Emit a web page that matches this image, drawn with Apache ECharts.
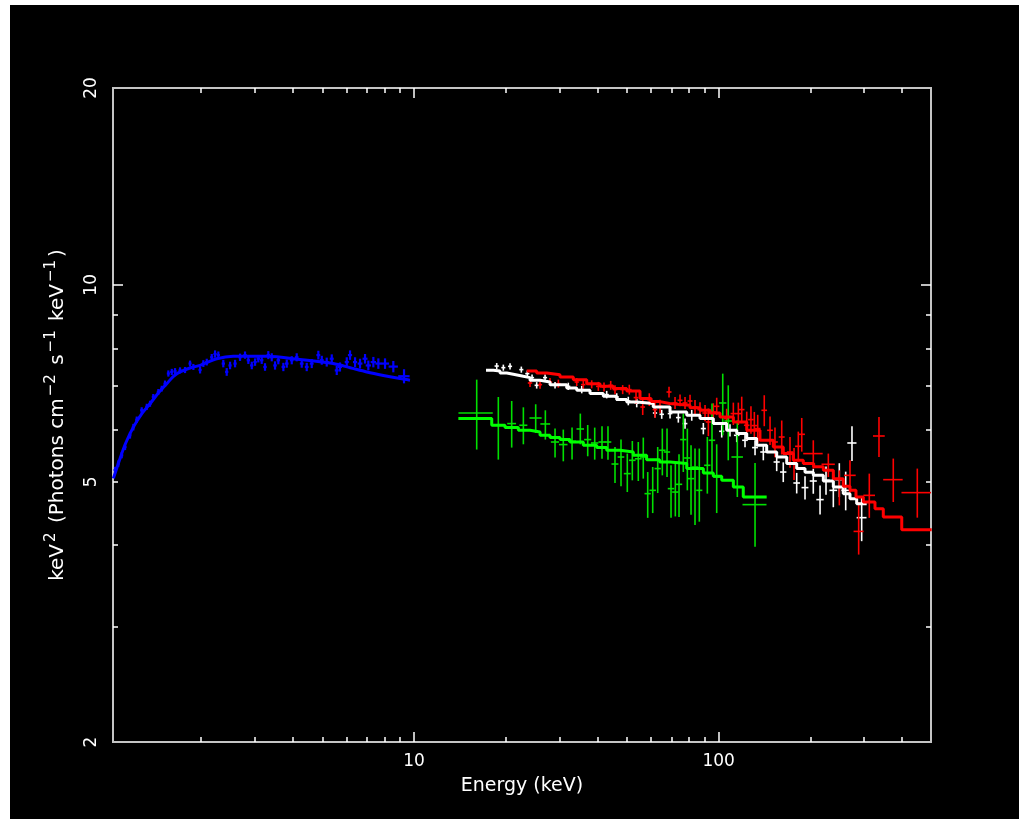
<!DOCTYPE html>
<html>
<head>
<meta charset="utf-8">
<script src="https://cdn.jsdelivr.net/npm/echarts@6/dist/echarts.min.js"></script>
<style>
html,body{margin:0;padding:0;background:#ffffff;overflow:hidden;}
#chart{position:absolute;left:10px;top:5px;width:1009px;height:814px;background:#000000;}
</style>
</head>
<body>
<div id="chart"></div>
<script>
// ---------------- axis ticks / labels ----------------
const xRange = [1.028, 497.5];
const yRange = [2, 20];
const xMajorTicks = [10, 100];
const xMinorTicks = [2, 3, 4, 5, 6, 7, 8, 9, 20, 30, 40, 50, 60, 70, 80, 90, 200, 300, 400];
const xTickLabels = [10, 100];
const yMajorTicks = [10];
const yMinorTicks = [3, 4, 5, 6, 7, 8, 9];
const yTickLabels = [2, 5, 10, 20];

// ---------------- blue data (E keV, value, +/- value err, +/- energy half-width) ----------------
const blueE = [1.044,1.070,1.098,1.126,1.169,1.199,1.230,1.277,1.327,1.360,1.394,1.448,1.486,1.523,1.562,1.603,1.643,1.706,1.772,1.840,1.887,1.985,2.035,2.088,2.168,2.223,2.279,2.366,2.428,2.490,2.586,2.685,2.788,2.859,2.934,3.008,3.083,3.163,3.243,3.325,3.412,3.498,3.586,3.725,3.822,3.969,4.121,4.280,4.445,4.616,4.853,4.980,5.170,5.370,5.577,5.714,6.015,6.166,6.404,6.650,6.906,7.080,7.354,7.637,8.032,8.552,9.273];
const blueV = [5.21,5.33,5.49,5.65,5.89,6.06,6.22,6.43,6.51,6.58,6.74,6.86,6.94,7.06,7.32,7.36,7.38,7.40,7.41,7.58,7.49,7.41,7.58,7.62,7.75,7.84,7.81,7.58,7.36,7.53,7.58,7.75,7.81,7.67,7.53,7.62,7.71,7.67,7.49,7.81,7.75,7.53,7.67,7.49,7.58,7.67,7.75,7.58,7.49,7.58,7.81,7.67,7.62,7.71,7.40,7.49,7.62,7.81,7.62,7.58,7.71,7.53,7.62,7.58,7.58,7.50,7.25];
const blueErrV = [0.06,0.06,0.06,0.06,0.07,0.07,0.07,0.07,0.07,0.07,0.07,0.07,0.07,0.08,0.08,0.08,0.08,0.08,0.08,0.08,0.08,0.09,0.09,0.09,0.09,0.10,0.10,0.10,0.10,0.10,0.10,0.10,0.10,0.10,0.10,0.10,0.10,0.10,0.10,0.11,0.11,0.11,0.11,0.11,0.11,0.11,0.11,0.11,0.11,0.12,0.12,0.12,0.12,0.12,0.12,0.12,0.13,0.13,0.13,0.13,0.13,0.13,0.14,0.14,0.14,0.15,0.18];
const blueErrE = [0.012,0.012,0.013,0.013,0.013,0.014,0.014,0.015,0.015,0.016,0.016,0.017,0.017,0.018,0.018,0.019,0.019,0.020,0.020,0.021,0.022,0.023,0.024,0.025,0.026,0.027,0.028,0.029,0.030,0.030,0.032,0.034,0.035,0.036,0.037,0.038,0.040,0.040,0.042,0.043,0.045,0.046,0.048,0.050,0.052,0.054,0.057,0.060,0.063,0.066,0.070,0.072,0.076,0.080,0.084,0.087,0.093,0.097,0.10,0.12,0.13,0.14,0.15,0.17,0.25,0.30,0.40];

// blue model curve
const blueModelE = [1.031,1.08,1.13,1.199,1.28,1.36,1.45,1.543,1.62,1.706,1.85,1.985,2.25,2.55,3.29,4.23,5.43,6.17,7.0,7.93,9.0,9.7];
const blueModelV = [5.06,5.40,5.72,6.06,6.36,6.58,6.84,7.06,7.24,7.36,7.47,7.53,7.71,7.78,7.78,7.69,7.58,7.47,7.36,7.27,7.19,7.15];

// ---------------- white data ----------------
const whiteE = [18.68,19.64,20.66,22.50,23.54,24.40,25.27,26.92,29.03,32.09,35.52,42.89,46.26,50.50,53.82,61.79,65.01,69.23,73.70,77.53,81.56,89.04,102.3,108.9,114.6,122.0,131.6,140.1,155.0,162.9,180.3,192.0,204.4,215.1,225.0,237.8,248.8,261.1,273.8,294.6];
const whiteV = [7.514,7.472,7.506,7.420,7.316,7.214,7.021,7.214,7.021,6.996,6.916,6.795,6.738,6.644,6.598,6.369,6.340,6.356,6.267,6.136,6.318,6.029,5.972,5.993,5.888,5.786,5.639,5.552,5.360,5.174,4.978,4.898,5.013,4.695,5.025,4.851,5.037,4.851,5.731,4.406];
const whiteErrV = [0.08,0.08,0.08,0.08,0.08,0.08,0.08,0.08,0.08,0.09,0.09,0.09,0.09,0.10,0.10,0.10,0.10,0.11,0.11,0.11,0.12,0.12,0.13,0.13,0.14,0.14,0.15,0.16,0.17,0.18,0.18,0.20,0.22,0.24,0.25,0.28,0.30,0.33,0.35,0.35];
const whiteErrE = [0.3,0.3,0.32,0.35,0.37,0.38,0.4,0.42,0.46,0.5,0.56,0.7,0.75,0.8,0.9,1.0,1.1,1.2,1.3,1.4,1.5,1.7,2.0,2.2,2.4,2.6,2.9,3.2,3.6,3.9,4.5,5.0,5.5,6.0,6.5,7.0,7.5,8.5,9.5,11];
// white model (bin start energy, value; last entry closes the last bin)
const whiteModelE = [17.23,18.21,19.15,20.15,21.18,22.85,24.03,25.92,27.95,31.71,34.20,37.81,41.81,46.26,49.90,53.82,61.00,69.23,78.54,86.83,96.01,106.2,114.6,123.6,133.3,143.7,155.0,167.2,180.3,192.0,204.4,220.5,237.8,256.4,269.7,283.7,306.0];
const whiteModelV = [7.402,7.384,7.332,7.298,7.247,7.214,7.146,7.103,7.038,6.955,6.899,6.819,6.755,6.677,6.621,6.584,6.505,6.392,6.318,6.245,6.136,5.993,5.924,5.820,5.685,5.552,5.455,5.330,5.237,5.170,5.114,5.013,4.908,4.795,4.711,4.629,4.629];

// ---------------- red data ----------------
const redE = [24.03,25.92,27.95,29.76,34.20,35.94,38.30,40.26,42.03,44.21,45.67,48.40,50.88,53.53,56.31,59.19,61.79,64.18,68.70,71.89,74.66,77.53,80.52,83.61,86.83,90.19,92.47,96.01,98.50,106.2,111.7,116.0,119.0,123.6,127.6,130.9,134.3,141.1,147.4,153.0,161.0,171.4,176.7,182.5,187.3,204.4,229.0,248.8,269.7,288.0,312.1,335.8,374.1,448.6];
const redV = [7.079,7.038,7.103,7.063,7.103,7.038,7.046,6.996,6.979,7.021,6.916,6.916,6.916,6.724,6.505,6.677,6.446,6.521,6.858,6.598,6.660,6.598,6.644,6.505,6.446,6.369,6.171,6.392,6.521,6.245,6.356,6.356,6.446,6.100,6.223,6.093,6.029,6.430,5.993,5.751,5.853,5.552,5.330,5.665,5.909,5.521,5.317,4.908,5.114,4.198,4.766,5.874,5.037,4.812];
const redErrMinus = [0.10,0.10,0.10,0.10,0.10,0.10,0.10,0.11,0.11,0.11,0.11,0.11,0.12,0.15,0.18,0.15,0.18,0.15,0.13,0.14,0.14,0.14,0.15,0.16,0.17,0.18,0.30,0.20,0.20,0.22,0.25,0.25,0.30,0.30,0.30,0.30,0.30,0.35,0.30,0.30,0.35,0.30,0.30,0.30,0.35,0.284,0.233,0.307,0.319,0.329,0.363,0.419,0.381,0.406];
const redErrPlus = [0.10,0.10,0.10,0.10,0.10,0.10,0.10,0.11,0.11,0.11,0.11,0.11,0.12,0.15,0.18,0.15,0.18,0.15,0.13,0.14,0.14,0.14,0.15,0.16,0.17,0.18,0.30,0.20,0.20,0.22,0.25,0.25,0.30,0.30,0.30,0.30,0.30,0.35,0.30,0.30,0.35,0.30,0.30,0.30,0.35,0.265,0.204,0.297,0.278,0.458,0.379,0.406,0.388,0.425];
const redErrE = [0.4,0.4,0.45,0.5,0.55,0.6,0.65,0.7,0.7,0.75,0.8,0.85,0.9,0.95,1.0,1.05,1.1,1.2,1.3,1.35,1.4,1.45,1.5,1.6,1.7,1.8,1.8,1.9,2.0,2.2,2.3,2.4,2.5,2.6,2.7,2.8,2.9,3.0,3.2,3.4,3.6,4.0,4.2,4.4,4.6,15,11.5,9.7,11.9,10.9,13.8,14.9,27.5,50.6];
const redModelE = [23.44,25.27,27.27,30.14,33.33,36.88,40.78,45.08,49.90,55.17,60.0,64.18,69.0,74.66,80.5,86.83,93.67,101.0,111.7,123.6,136.6,151.1,162.9,175.7,189.5,205.0,220.5,237.8,256.4,269.7,282.2,298.3,325.8,346.9,398.8,500.1];
const redModelV = [7.384,7.332,7.290,7.229,7.163,7.063,6.996,6.940,6.882,6.700,6.630,6.584,6.560,6.545,6.490,6.430,6.369,6.280,6.171,5.993,5.786,5.651,5.521,5.392,5.330,5.270,5.205,5.055,4.920,4.851,4.738,4.656,4.548,4.415,4.224,4.224];

// ---------------- green data ----------------
const greenE = [16.06,18.91,20.92,22.85,25.08,26.98,29.03,30.90,33.01,35.14,37.16,39.18,41.40,43.31,45.67,47.79,50.12,52.06,54.46,56.56,58.48,60.73,63.07,65.31,67.67,69.75,72.05,74.09,76.53,78.90,81.13,83.61,86.37,91.77,95.06,98.50,103.1,107.5,115.1,131.6];
const greenV = [6.369,6.100,6.136,6.100,6.258,6.128,5.751,5.699,5.765,6.021,5.800,5.731,5.751,5.751,5.322,5.455,5.145,5.392,5.421,5.455,4.795,4.851,5.237,5.586,5.552,4.880,4.822,4.955,5.800,5.436,5.055,5.266,4.851,5.298,5.786,5.084,6.598,6.192,5.455,4.613];
const greenErrMinus = [0.769,0.695,0.497,0.395,0.321,0.328,0.307,0.326,0.358,0.316,0.331,0.326,0.330,0.346,0.344,0.535,0.323,0.367,0.408,0.400,0.392,0.373,0.432,0.472,0.468,0.477,0.397,0.540,0.626,0.585,0.604,0.974,0.507,0.503,0.612,0.606,0.710,0.800,0.717,0.637];
const greenErrPlus = [0.794,0.638,0.508,0.398,0.310,0.302,0.278,0.309,0.285,0.335,0.306,0.319,0.327,0.327,0.329,0.345,0.376,0.379,0.330,0.386,0.379,0.415,0.414,0.443,0.477,0.418,0.538,0.552,0.556,0.593,0.630,0.354,0.769,0.555,0.798,0.621,0.718,0.829,0.752,0.728];
const greenErrE = [2.07,0.7,0.7,0.7,1.15,1.0,0.9,1.0,1.0,1.0,1.0,1.1,1.1,1.1,1.2,1.2,1.3,1.3,1.4,1.4,1.4,1.5,1.5,1.6,1.6,1.7,1.7,1.8,1.8,1.9,1.9,2.0,2.0,2.2,2.3,2.4,2.9,3.1,5.0,11.9];
const greenModelE = [13.98,17.99,19.89,22.00,24.03,25.92,27.95,30.14,32.51,35.94,39.78,42.89,47.43,52.45,58.00,64.0,69.23,78.54,89.04,96.01,102.3,111.7,120.4,143.7];
const greenModelV = [6.245,6.100,6.050,5.993,5.957,5.888,5.841,5.800,5.751,5.685,5.639,5.586,5.552,5.488,5.405,5.360,5.330,5.237,5.156,5.096,5.025,4.908,4.738,4.738];

// ---------------- build ----------------
const L = v => Math.log10(v);
const FONT = 'DejaVu Sans';

function errData(E, V, vm, vp, dE) {
  return E.map((e, i) => {
    const m = Array.isArray(vm) ? vm[i] : vm;
    const p = Array.isArray(vp) ? vp[i] : vp;
    return [L(e), L(V[i]), L(V[i] - m), L(V[i] + p), L(Math.max(e - dE[i], 0.01)), L(e + dE[i])];
  });
}
function modelData(E, V) { return E.map((e, i) => [L(e), L(V[i])]); }

function crossSeries(name, data, color, width) {
  return {
    name, type: 'custom', xAxisIndex: 0, yAxisIndex: 0, clip: true, z: 3,
    data,
    encode: { x: [0, 4, 5], y: [1, 2, 3] },
    renderItem: function (params, api) {
      const a = api.coord([api.value(4), api.value(1)]);
      const b = api.coord([api.value(5), api.value(1)]);
      const c = api.coord([api.value(0), api.value(2)]);
      const d = api.coord([api.value(0), api.value(3)]);
      const style = { stroke: color, lineWidth: width, fill: null };
      return {
        type: 'group',
        children: [
          { type: 'line', shape: { x1: a[0], y1: a[1], x2: b[0], y2: b[1] }, style },
          { type: 'line', shape: { x1: c[0], y1: c[1], x2: d[0], y2: d[1] }, style }
        ]
      };
    }
  };
}
function stepSeries(name, data, color) {
  return {
    name, type: 'line', xAxisIndex: 0, yAxisIndex: 0, step: 'end', data,
    showSymbol: false, symbol: 'none', z: 4, animation: false,
    lineStyle: { color, width: 3 }
  };
}

const axisLineStyle = { color: '#c4c4c4', width: 2 };
const tickStyle = { color: '#ffffff', width: 1.5 };
function xAx(pos, custom, len, withLabels) {
  return {
    type: 'value', position: pos, min: L(xRange[0]), max: L(xRange[1]),
    splitLine: { show: false },
    axisLine: { show: true, onZero: false, lineStyle: axisLineStyle },
    axisTick: { show: true, inside: true, length: len, customValues: custom.map(L), lineStyle: tickStyle },
    axisLabel: withLabels ? {
      show: true, customValues: xTickLabels.map(L), showMinLabel: true, showMaxLabel: true,
      formatter: v => String(Math.round(Math.pow(10, v))),
      color: '#ffffff', fontSize: 17, fontFamily: FONT, margin: 11
    } : { show: false },
    name: withLabels ? 'Energy (keV)' : '',
    nameLocation: 'middle', nameGap: 35,
    nameTextStyle: { color: '#ffffff', fontSize: 19, fontFamily: FONT }
  };
}
function yAx(pos, custom, len, withLabels) {
  return {
    type: 'value', position: pos, min: L(yRange[0]), max: L(yRange[1]),
    splitLine: { show: false },
    axisLine: { show: true, onZero: false, lineStyle: axisLineStyle },
    axisTick: { show: true, inside: true, length: len, customValues: custom.map(L), lineStyle: tickStyle },
    axisLabel: withLabels ? {
      show: true, customValues: yTickLabels.map(L), showMinLabel: true, showMaxLabel: true,
      rotate: 90,
      formatter: v => String(Math.round(Math.pow(10, v))),
      color: '#ffffff', fontSize: 17, fontFamily: FONT, margin: 13
    } : { show: false },
    name: withLabels ? '{a|keV}{s|2}{a| (Photons cm}{s|−2}{a| s}{s|−1}{a| keV}{s|−1}{a|)}' : '',
    nameLocation: 'middle', nameRotate: 90, nameGap: 41,
    nameTextStyle: {
      color: '#ffffff', fontSize: 20, fontFamily: FONT,
      rich: {
        a: { color: '#ffffff', fontSize: 20, fontFamily: FONT, lineHeight: 28 },
        s: { color: '#ffffff', fontSize: 15, fontFamily: FONT, lineHeight: 28, verticalAlign: 'top', padding: [0, 3, 0, 2] }
      }
    }
  };
}

const chart = echarts.init(document.getElementById('chart'), null, { renderer: 'canvas' });
chart.setOption({
  backgroundColor: '#000000',
  animation: false,
  grid: { left: 103, top: 83, width: 818, height: 654, containLabel: false },
  xAxis: [
    xAx('bottom', xMajorTicks, 10, true),
    xAx('bottom', xMinorTicks, 5, false),
    xAx('top', xMajorTicks, 10, false),
    xAx('top', xMinorTicks, 5, false)
  ],
  yAxis: [
    yAx('left', yMajorTicks, 10, true),
    yAx('left', yMinorTicks, 5, false),
    yAx('right', yMajorTicks, 10, false),
    yAx('right', yMinorTicks, 5, false)
  ],
  series: [
    crossSeries('blue data', errData(blueE, blueV, blueErrV, blueErrV, blueErrE), '#0000ff', 2.2),
    { name: 'blue model', type: 'line', xAxisIndex: 0, yAxisIndex: 0, data: modelData(blueModelE, blueModelV),
      smooth: 0.3, showSymbol: false, symbol: 'none', z: 4, lineStyle: { color: '#0000ff', width: 3 } },
    crossSeries('white data', errData(whiteE, whiteV, whiteErrV, whiteErrV, whiteErrE), '#ffffff', 1.6),
    stepSeries('white model', modelData(whiteModelE, whiteModelV), '#ffffff'),
    crossSeries('red data', errData(redE, redV, redErrMinus, redErrPlus, redErrE), '#ff0000', 1.6),
    stepSeries('red model', modelData(redModelE, redModelV), '#ff0000'),
    crossSeries('green data', errData(greenE, greenV, greenErrMinus, greenErrPlus, greenErrE), '#00e000', 1.6),
    stepSeries('green model', modelData(greenModelE, greenModelV), '#00ff00')
  ]
});
</script>
</body>
</html>
